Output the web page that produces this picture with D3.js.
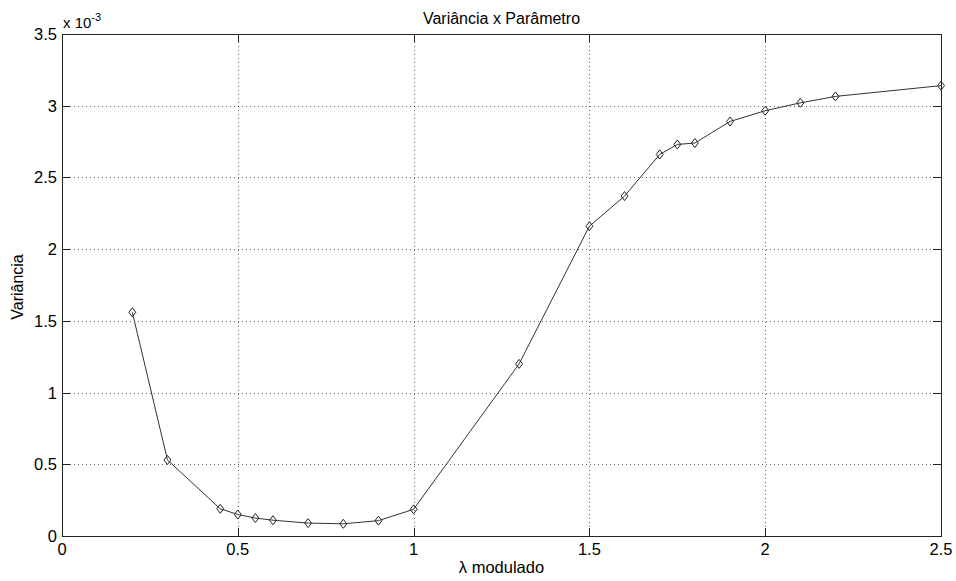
<!DOCTYPE html>
<html><head><meta charset="utf-8">
<script src="https://cdn.jsdelivr.net/npm/d3@7"></script>
<style>body{margin:0;background:#fff;} text{font-family:"Liberation Sans",Arial,sans-serif;}</style>
</head><body><svg id="c" width="956" height="581"></svg>
<script>
const lambdaVals = [0.2,0.3,0.45,0.5,0.55,0.6,0.7,0.8,0.9,1.0,1.3,1.5,1.6,1.7,1.75,1.8,1.9,2.0,2.1,2.2,2.5];
const variancia = [1.56,0.53,0.19,0.15,0.125,0.11,0.09,0.085,0.107,0.186,1.2,2.16,2.37,2.66,2.73,2.74,2.89,2.965,3.02,3.065,3.14];
const xTicks = [0,0.5,1,1.5,2,2.5];
const yTicks = [0,0.5,1,1.5,2,2.5,3,3.5];
const titleText = "Variância x Parâmetro";
const xLabel = "λ modulado";
const yLabel = "Variância";

const L=62,R=941,T=34,B=536;
const svg=d3.select("#c");
const x=d3.scaleLinear().domain([0,2.5]).range([L,R]);
const y=d3.scaleLinear().domain([0,3.5]).range([B,T]);

// grid
const g=svg.append("g");
g.selectAll(".gx").data(xTicks.slice(1,-1)).enter().append("line")
 .attr("x1",d=>Math.round(x(d))+0.5).attr("x2",d=>Math.round(x(d))+0.5).attr("y1",T).attr("y2",B)
 .attr("stroke","#000").attr("stroke-width",1).attr("stroke-dasharray","1,3").attr("opacity",0.6);
g.selectAll(".gy").data(yTicks.slice(1,-1)).enter().append("line")
 .attr("y1",d=>Math.round(y(d))+0.5).attr("y2",d=>Math.round(y(d))+0.5).attr("x1",L).attr("x2",R)
 .attr("stroke","#000").attr("stroke-width",1).attr("stroke-dasharray","1,3").attr("opacity",0.6);

// axes box
svg.append("rect").attr("x",L+0.5).attr("y",T+0.5).attr("width",R-L).attr("height",B-T)
 .attr("fill","none").attr("stroke","#222").attr("stroke-width",1);

// ticks inside
const tl=8;
xTicks.forEach(d=>{
  const px=Math.round(x(d))+0.5;
  svg.append("line").attr("x1",px).attr("x2",px).attr("y1",B).attr("y2",B-tl).attr("stroke","#222");
  svg.append("line").attr("x1",px).attr("x2",px).attr("y1",T).attr("y2",T+tl).attr("stroke","#222");
});
yTicks.forEach(d=>{
  const py=Math.round(y(d))+0.5;
  svg.append("line").attr("y1",py).attr("y2",py).attr("x1",L).attr("x2",L+tl).attr("stroke","#222");
  svg.append("line").attr("y1",py).attr("y2",py).attr("x1",R).attr("x2",R-tl).attr("stroke","#222");
});

// tick labels
svg.selectAll(".xl").data(xTicks).enter().append("text")
 .attr("x",d=>x(d)).attr("y",B+19).attr("text-anchor","middle").attr("font-size",16.5).text(d=>d3.format("")(d));
svg.selectAll(".yl").data(yTicks).enter().append("text")
 .attr("x",L-5).attr("y",d=>y(d)+6).attr("text-anchor","end").attr("font-size",16.5).text(d=>d3.format("")(d));

// exponent
const ex=svg.append("text").attr("x",L+1).attr("y",T-6).attr("font-size",15);
ex.append("tspan").text("x 10");
ex.append("tspan").attr("dy",-7).attr("font-size",11).text("-3");

// title & labels
svg.append("text").attr("x",(L+R)/2).attr("y",T-10).attr("text-anchor","middle").attr("font-size",16).text(titleText);
svg.append("text").attr("x",(L+R)/2).attr("y",B+37).attr("text-anchor","middle").attr("font-size",16.5).text(xLabel);
svg.append("text").attr("transform",`translate(23,${(T+B)/2+2}) rotate(-90)`).attr("text-anchor","middle").attr("font-size",16).text(yLabel);

// line
const line=d3.line().x((d,i)=>x(lambdaVals[i])).y(d=>y(d));
svg.append("path").datum(variancia).attr("d",line).attr("fill","none").attr("stroke","#333").attr("stroke-width",1);

// markers
svg.selectAll(".m").data(variancia).enter().append("path")
 .attr("transform",(d,i)=>`translate(${x(lambdaVals[i])},${y(d)})`)
 .attr("d","M0,-4.5L3.5,0L0,4.5L-3.5,0Z").attr("fill","none").attr("stroke","#222").attr("stroke-width",1);
</script></body></html>
